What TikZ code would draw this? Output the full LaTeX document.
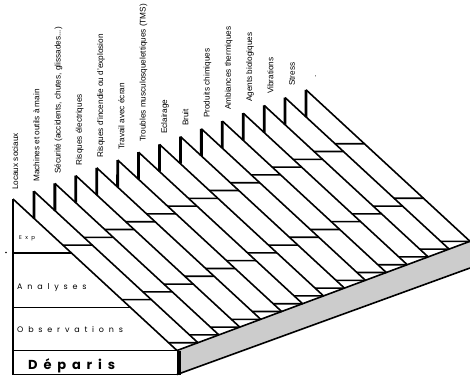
\documentclass[tikz,border=0pt]{standalone}
\usepackage{fontspec}
\setmainfont{Liberation Sans}
\newfontfamily\stagefont[LetterSpace=60]{Poppins}
\usetikzlibrary{calc}

\begin{document}
\begin{tikzpicture}[
  x=1pt, y=-1pt,
  font=\fontsize{8.2}{10}\selectfont,
  diag/.style={line width=1.6pt},
  pole/.style={line width=2.8pt},
  rung/.style={line width=1.6pt},
  risk/.style={rotate=90, anchor=base west, inner sep=0pt},
  stage/.style={anchor=base west, inner sep=0pt}
]
\useasboundingbox (0,0) rectangle (470,377);

% tops of the poles and feet of the strips
\foreach \k in {0,...,14}{
  \coordinate (P\k) at ({13+20.93*\k},{199-7.8*\k});
  \coordinate (B\k) at ($(P\k)+(164,151.5)$);
}
\coordinate (D0) at (P0 |- B0);
\coordinate (F0) at (177,374.5);
\coordinate (F14) at (470,268);
\coordinate (G0) at (13,374.5);

% grey base slab
\fill[gray!40] (B0) -- (B14) -- (F14) -- (F0) -- cycle;
\draw[diag] (B0) -- (B14);
\draw[diag] (F0) -- (F14);

% departure box
\draw[diag] (D0) -- (B0) (G0) -- (F0);
\draw[line width=3.5pt] ([xshift=1.8pt]B0) -- ([xshift=1.8pt]F0);

% steps across the strips
\foreach \b in {0.356,0.716,1}{
  \draw[rung] ($(P0)!\b!(D0)$) -- ($(P0)!\b!(B0)$);
  \foreach \k [evaluate=\k as \j using int(\k-1)] in {1,...,14}
    \draw[rung] ($(P\j)!{\b-0.0515}!(B\j)$) -- ($(P\k)!\b!(B\k)$);
}

% strips and poles
\foreach \k in {0,...,14}
  \draw[diag] (P\k) -- (B\k);
\draw[pole] (P0) -- (G0);
\foreach \k [evaluate=\k as \j using int(\k-1)] in {1,...,14}
  \draw[pole] (P\k) -- ($(P\j)!0.1276!(B\j)$);

% risk labels on top of the poles
\foreach \k/\txt in {0/Locaux sociaux, 1/Machines et outils à main,
    2/{Sécurité (accidents, chutes, glissades...)}, 3/Risques électriques,
    4/Risques d'incendie ou d'explosion, 5/Travail avec écran,
    6/Troubles musculosquelettiques (TMS), 7/Eclairage, 8/Bruit,
    9/Produits chimiques, 10/Ambiances thermiques, 11/Agents biologiques,
    12/Vibrations, 13/Stress, 14/.}
  \node[risk] (lab\k) at ({18+21.29*\k},{190-8*\k}) {\txt};

% stages
\node[stage, font=\stagefont\fontsize{5.5}{6}\selectfont] (exp) at (19,239) {Exp};
\node[stage, font=\stagefont\fontsize{8}{9}\selectfont] (analyses) at (17,289) {Analyses};
\node[stage, font=\stagefont\fontsize{8}{9}\selectfont] (observations) at (17,332) {Observations};
\node[stage, font=\stagefont\bfseries\fontsize{13}{15}\selectfont\addfontfeature{LetterSpace=45}] (deparis) at (28,369) {Déparis};
\fill (6,252.5) circle (0.8);
\end{tikzpicture}
\end{document}
